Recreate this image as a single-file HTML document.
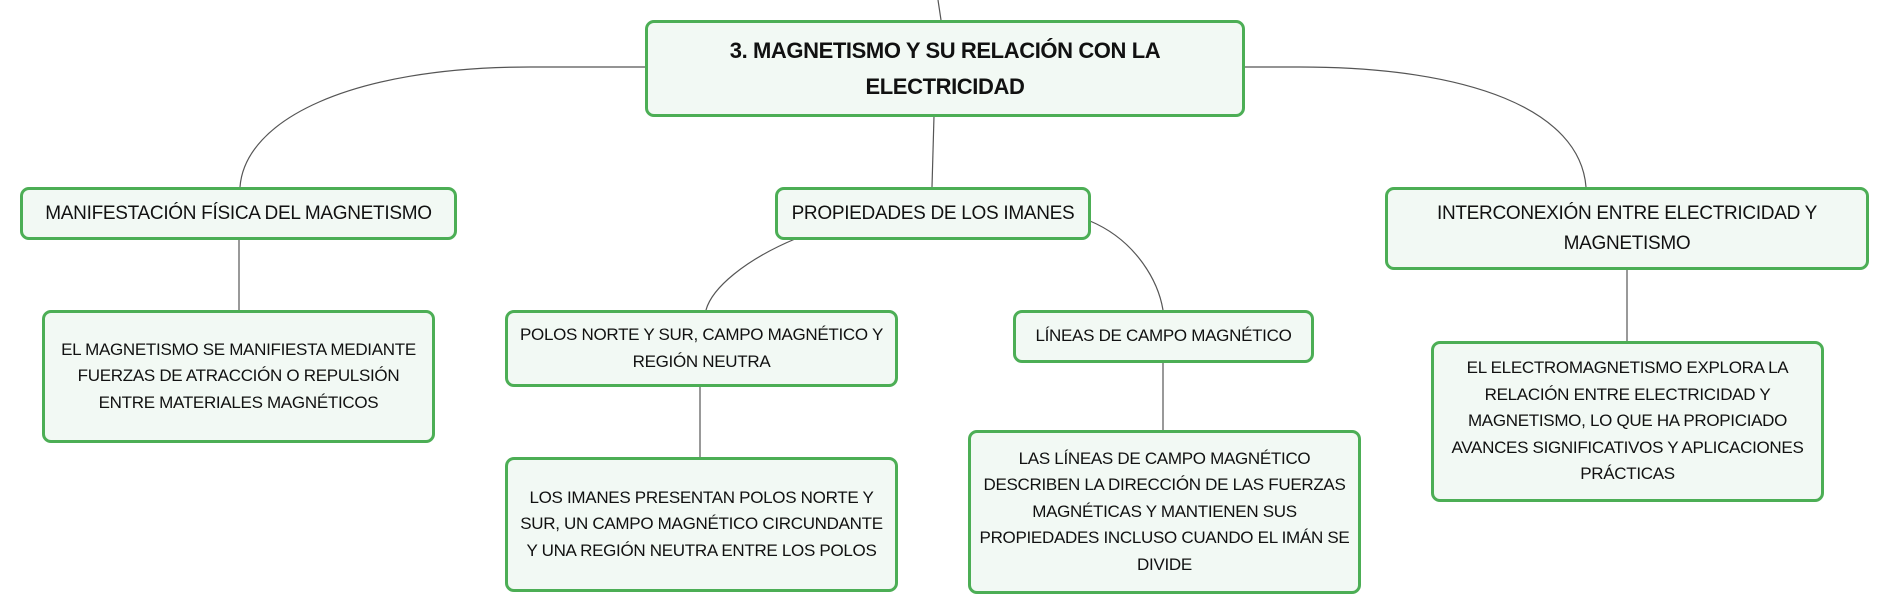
<!DOCTYPE html>
<html><head><meta charset="utf-8"><style>
body{margin:0;width:1890px;height:615px;background:#fff;position:relative;overflow:hidden;font-family:"Liberation Sans",sans-serif;}
.b{position:absolute;box-sizing:border-box;border:3px solid #4cae55;border-radius:9px;background:#f2f9f4;display:flex;align-items:center;justify-content:center;text-align:center;color:#111;font-size:17px;line-height:26.5px;letter-spacing:-0.3px;white-space:nowrap;}
.h{font-size:19px;line-height:30px;}
.r{font-size:22px;font-weight:bold;line-height:36px;letter-spacing:-0.4px;}
svg{position:absolute;left:0;top:0;}
</style></head><body>
<svg width="1890" height="615"><g fill="none" stroke="#555" stroke-width="1.2">
<path d="M938,0 L941,20"/>
<path d="M934,116 L932,187"/>
<path d="M645,67 L530,67 C350,67 245,120 240,187"/>
<path d="M1244,67 L1300,67 C1470,67 1580,110 1586,187"/>
<path d="M239,239 L239,310"/>
<path d="M795,239 C745,260 712,288 706,310"/>
<path d="M1090,221 C1135,240 1158,280 1163,310"/>
<path d="M700,386 L700,457"/>
<path d="M1163,362 L1163,430"/>
<path d="M1627,269 L1627,341"/>
</g></svg>
<div class="b r" style="left:645px;top:20px;width:600px;height:97px;">3. MAGNETISMO Y SU RELACIÓN CON LA<br>ELECTRICIDAD</div>
<div class="b h" style="left:20px;top:187px;width:437px;height:53px;">MANIFESTACIÓN FÍSICA DEL MAGNETISMO</div>
<div class="b h" style="left:775px;top:187px;width:316px;height:53px;">PROPIEDADES DE LOS IMANES</div>
<div class="b h" style="left:1385px;top:187px;width:484px;height:83px;">INTERCONEXIÓN ENTRE ELECTRICIDAD Y<br>MAGNETISMO</div>
<div class="b" style="left:42px;top:310px;width:393px;height:133px;">EL MAGNETISMO SE MANIFIESTA MEDIANTE<br>FUERZAS DE ATRACCIÓN O REPULSIÓN<br>ENTRE MATERIALES MAGNÉTICOS</div>
<div class="b" style="left:505px;top:310px;width:393px;height:77px;">POLOS NORTE Y SUR, CAMPO MAGNÉTICO Y<br>REGIÓN NEUTRA</div>
<div class="b" style="left:1013px;top:310px;width:301px;height:53px;">LÍNEAS DE CAMPO MAGNÉTICO</div>
<div class="b" style="left:505px;top:457px;width:393px;height:135px;">LOS IMANES PRESENTAN POLOS NORTE Y<br>SUR, UN CAMPO MAGNÉTICO CIRCUNDANTE<br>Y UNA REGIÓN NEUTRA ENTRE LOS POLOS</div>
<div class="b" style="left:968px;top:430px;width:393px;height:164px;">LAS LÍNEAS DE CAMPO MAGNÉTICO<br>DESCRIBEN LA DIRECCIÓN DE LAS FUERZAS<br>MAGNÉTICAS Y MANTIENEN SUS<br>PROPIEDADES INCLUSO CUANDO EL IMÁN SE<br>DIVIDE</div>
<div class="b" style="left:1431px;top:341px;width:393px;height:161px;">EL ELECTROMAGNETISMO EXPLORA LA<br>RELACIÓN ENTRE ELECTRICIDAD Y<br>MAGNETISMO, LO QUE HA PROPICIADO<br>AVANCES SIGNIFICATIVOS Y APLICACIONES<br>PRÁCTICAS</div>
</body></html>
